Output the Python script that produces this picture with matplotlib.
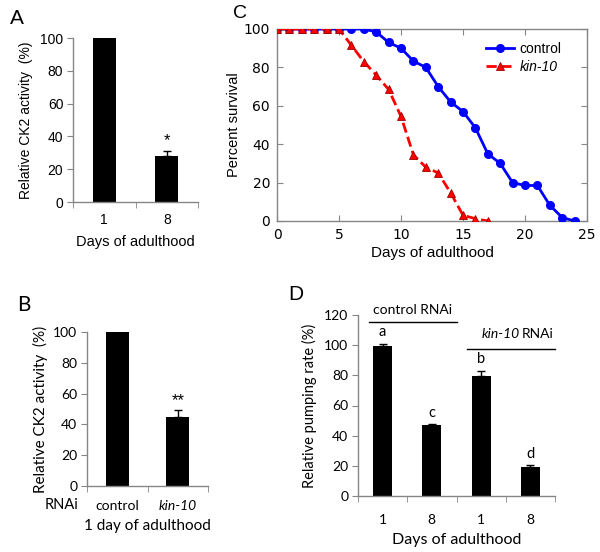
import matplotlib
matplotlib.use("Agg")
import matplotlib.pyplot as plt
import numpy as np

# ---- data ----
a_days = ["1", "8"]
a_activity = [100, 28]
a_err = [0, 3]

b_rnai = ["control", "kin-10"]
b_activity = [100, 45]
b_err = [0, 4.5]

c_days_control = list(range(0, 25))
c_control = [100, 100, 100, 100, 100, 100, 100, 100, 98.5, 93, 90, 83.3, 80,
             70, 62, 57, 48.5, 35, 30, 20, 18.5, 18.5, 8.2, 1.8, 0]
c_days_kin10 = list(range(0, 18))
c_kin10 = [100, 100, 100, 100, 100, 100, 91.5, 83, 76, 68.5, 54.5, 34.5,
           28, 25, 14.7, 3, 1.2, 0]

d_days = ["1", "8", "1", "8"]
d_rate = [99.5, 47, 79.5, 19]
d_err = [1.5, 0.7, 3.5, 1.5]
d_letters = ["a", "c", "b", "d"]

W, H = 600, 552
GREY = "#868686"
EXCEL_FONT = "Lato"
ARIAL = "Liberation Sans"

fig = plt.figure(figsize=(W / 100, H / 100), dpi=100)


def rect(left, top, right, bottom):
    return [left / W, 1 - bottom / H, (right - left) / W, (bottom - top) / H]


def excel_axes(ax, n, ymax, ystep, font, fs=10):
    ax.set_xlim(-0.5, n - 0.5)
    ax.set_ylim(0, ymax)
    for s in ["top", "right"]:
        ax.spines[s].set_visible(False)
    for s in ["left", "bottom"]:
        ax.spines[s].set_color(GREY)
        ax.spines[s].set_linewidth(1)
    ax.set_yticks(np.arange(0, ymax + 1, ystep))
    ax.set_xticks(np.arange(n))
    ax.set_xticks(np.arange(n + 1) - 0.5, minor=True)
    ax.tick_params(axis="x", which="major", length=0, pad=8)
    ax.tick_params(axis="x", which="minor", length=4, color=GREY, direction="out")
    ax.tick_params(axis="y", length=4, color=GREY, direction="out", pad=3)
    for lab in ax.get_xticklabels() + ax.get_yticklabels():
        lab.set_fontfamily(font)
        lab.set_fontsize(fs)


# ---- panel A ----
axA = fig.add_axes(rect(73, 38, 198, 202))
xa = np.arange(len(a_days))
axA.bar(xa, a_activity, width=0.37, color="black")
axA.errorbar(xa[1:], a_activity[1:], yerr=[[0], a_err[1:]], fmt="none",
             ecolor="black", capsize=3, elinewidth=1)
axA.set_xticks(xa)
axA.set_xticklabels(a_days)
excel_axes(axA, 2, 100, 20, ARIAL, 10)
axA.set_ylabel("Relative CK2 activity  (%)", fontfamily=ARIAL, fontsize=10, labelpad=5)
axA.set_xlabel("Days of adulthood", fontfamily=ARIAL, fontsize=10.5, labelpad=6)
axA.text(1, a_activity[1] + a_err[1] + 2, "*", ha="center", va="bottom",
         fontsize=12, fontfamily=ARIAL)
fig.text(10 / W, 1 - 18 / H, "A", fontsize=15, fontfamily=ARIAL, va="center")

# ---- panel B ----
axB = fig.add_axes(rect(87, 332, 208, 486))
xb = np.arange(len(b_rnai))
axB.bar(xb, b_activity, width=0.38, color="black")
axB.errorbar(xb[1:], b_activity[1:], yerr=[[0], b_err[1:]], fmt="none",
             ecolor="black", capsize=3, elinewidth=1)
axB.set_xticks(xb)
axB.set_xticklabels(b_rnai)
excel_axes(axB, 2, 100, 20, EXCEL_FONT, 10)
axB.tick_params(axis="x", which="major", pad=10)
axB.get_xticklabels()[1].set_fontstyle("italic")
axB.set_ylabel("Relative CK2 activity  (%)", fontfamily=EXCEL_FONT, fontsize=11, labelpad=4)
axB.set_xlabel("1 day of adulthood", fontfamily=EXCEL_FONT, fontsize=11, labelpad=5)
axB.text(-0.92, -0.125, "RNAi", transform=axB.get_xaxis_transform(), ha="center",
         va="center", fontfamily=EXCEL_FONT, fontsize=10.5)
axB.text(1, b_activity[1] + b_err[1] + 1, "**", ha="center", va="bottom",
         fontsize=12, fontfamily=ARIAL)
fig.text(17 / W, 1 - 305 / H, "B", fontsize=15, fontfamily=EXCEL_FONT, va="center")

# ---- panel C ----
axC = fig.add_axes(rect(277, 29, 587, 221))
axC.plot(c_days_control, c_control, color="#0000ff", lw=2, marker="o", ms=5.5,
         label="control", zorder=3)
axC.plot(c_days_kin10, c_kin10, color="#ff0000", lw=2, ls="--", marker="^", ms=5.5,
         mec="#a00000", mew=0.6, label="kin-10", zorder=4)
axC.set_xlim(0, 25)
axC.set_ylim(0, 100)
axC.set_xticks([0, 5, 10, 15, 20, 25])
axC.set_yticks([0, 20, 40, 60, 80, 100])
for s in axC.spines.values():
    s.set_color(GREY)
    s.set_linewidth(1)
axC.tick_params(direction="in", length=4, color=GREY, top=True, right=True,
                labelsize=10, pad=5)
for lab in axC.get_xticklabels() + axC.get_yticklabels():
    lab.set_fontfamily("DejaVu Sans")
axC.set_ylabel("Percent survival", fontfamily=ARIAL, fontsize=10.5, labelpad=2)
axC.set_xlabel("Days of adulthood", fontfamily=ARIAL, fontsize=11, labelpad=3)
leg = axC.legend(loc="upper right", bbox_to_anchor=(0.95, 0.985), frameon=False,
                 handlelength=2.0, handletextpad=0.4, labelspacing=0.3,
                 borderaxespad=0.3, prop={"family": ARIAL, "size": 10})
leg.get_texts()[1].set_fontstyle("italic")
fig.text(233 / W, 1 - 13 / H, "C", fontsize=14, fontfamily=ARIAL, va="center")

# ---- panel D ----
axD = fig.add_axes(rect(358, 315, 555, 496))
xd = np.arange(len(d_days))
axD.bar(xd, d_rate, width=0.39, color="black")
axD.errorbar(xd, d_rate, yerr=[[0] * 4, d_err], fmt="none", ecolor="black",
             capsize=3, elinewidth=1)
axD.set_xticks(xd)
axD.set_xticklabels(d_days)
excel_axes(axD, 4, 120, 20, EXCEL_FONT, 10)
axD.tick_params(axis="x", which="major", pad=13)
axD.set_ylabel("Relative pumping rate (%)", fontfamily=EXCEL_FONT, fontsize=10.5, labelpad=5)
axD.set_xlabel("Days of adulthood", fontfamily=EXCEL_FONT, fontsize=11.5, labelpad=5)
for i, (v, e, t) in enumerate(zip(d_rate, d_err, d_letters)):
    axD.text(i, v + e + 3, t, ha="center", va="bottom", fontsize=10.5,
             fontfamily=EXCEL_FONT)
# group brackets
groups = [("control RNAi", 0, 1, 115.5, False), ("kin-10 RNAi", 2, 3, 97.5, True)]
for name, g0, g1, yline, ital in groups:
    axD.plot([g0 - 0.28, g1 + 0.5], [yline, yline], color="black", lw=1,
             clip_on=False)
    xm = (g0 - 0.28 + g1 + 0.5) / 2
    if ital:
        axD.text(xm + 0.17, yline + 6, "kin-10", ha="right", va="bottom",
                 fontsize=10, fontfamily=EXCEL_FONT, style="italic", clip_on=False)
        axD.text(xm + 0.22, yline + 6, "RNAi", ha="left", va="bottom",
                 fontsize=10, fontfamily=EXCEL_FONT, clip_on=False)
    else:
        axD.text(xm, yline + 4, name, ha="center", va="bottom", fontsize=10,
                 fontfamily=EXCEL_FONT, clip_on=False)
fig.text(288 / W, 1 - 295 / H, "D", fontsize=15, fontfamily=ARIAL, va="center")

fig.savefig("out.png", dpi=100)
